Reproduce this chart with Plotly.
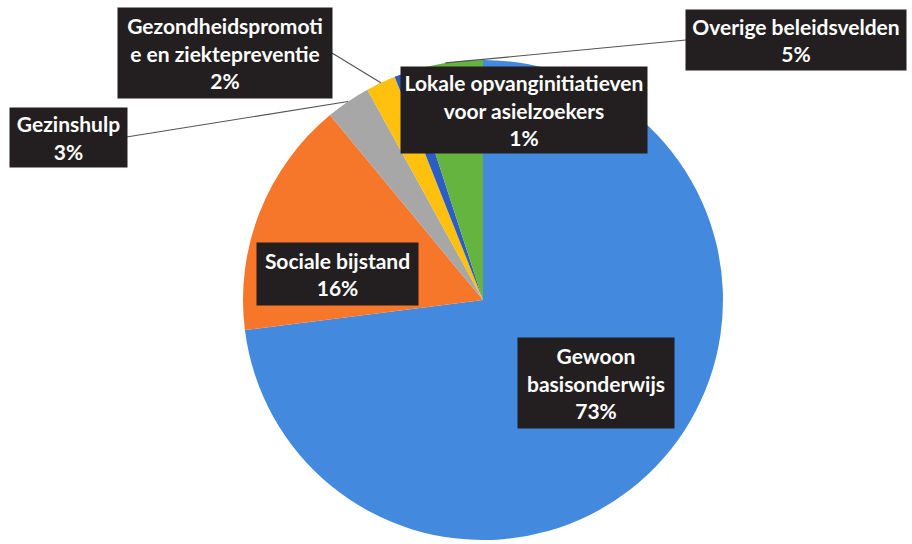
import math
import plotly.graph_objects as go

labels = ["Gewoon basisonderwijs", "Sociale bijstand", "Gezinshulp",
          "Gezondheidspromotie en ziektepreventie",
          "Lokale opvanginitiatieven voor asielzoekers", "Overige beleidsvelden"]
values = [73, 16, 3, 2, 1, 5]
box_texts = ["Gewoon<br>basisonderwijs<br>73%", "Sociale bijstand<br>16%", "Gezinshulp<br>3%",
             "Gezondheidspromoti<br>e en ziektepreventie<br>2%",
             "Lokale opvanginitiatieven<br>voor asielzoekers<br>1%",
             "Overige beleidsvelden<br>5%"]
colors = ["#4389DD", "#F7772A", "#A7A7A7", "#FFC10E", "#2B5DC4", "#64B43F"]

W, H = 912, 544
cx, cy, R = 483, 300, 240

# label box centre (px), size (px), and whether it gets a leader line
boxes = [
    (596, 383, 156, 90, False),
    (337, 274, 161, 62, False),
    (68, 137, 117, 59, True),
    (225, 53, 214, 90, True),
    (524, 110, 246, 86, False),
    (796, 40, 220, 60, True),
]

fig = go.Figure(go.Pie(
    labels=labels, values=values, sort=False, direction="clockwise", rotation=0,
    marker=dict(colors=colors, line=dict(width=0)),
    textinfo="none", hoverinfo="label+percent", showlegend=False,
    domain=dict(x=[(cx - R) / W, (cx + R) / W], y=[1 - (cy + R) / H, 1 - (cy - R) / H]),
))

shapes, annots = [], []
total = sum(values)
cum = 0
for v, txt, (bx, by, bw, bh, leader) in zip(values, box_texts, boxes):
    mid = (cum + v / 2) / total * 2 * math.pi
    cum += v
    if leader:
        ex = cx + R * math.sin(mid)
        ey = cy - R * math.cos(mid)
        sx = bx + bw / 2 if ex > bx else bx - bw / 2
        shapes.append(dict(type="line", xref="paper", yref="paper",
                           x0=sx / W, y0=1 - by / H, x1=ex / W, y1=1 - ey / H,
                           line=dict(color="#555555", width=1.2)))
    annots.append(dict(x=bx / W, y=1 - by / H, xref="paper", yref="paper",
                       xanchor="center", yanchor="middle",
                       text=txt, showarrow=False, width=bw - 2, height=bh - 2,
                       bgcolor="#231F20", borderpad=1,
                       font=dict(family="Lato", size=21, color="white", weight="bold"),
                       align="center", valign="middle"))

fig.update_layout(
    width=W, height=H, margin=dict(l=0, r=0, t=0, b=0),
    paper_bgcolor="white", plot_bgcolor="white",
    shapes=shapes, annotations=annots,
)
fig.write_html("out.html", config={"displayModeBar": False},
               post_script="document.body.style.margin='0px';")
